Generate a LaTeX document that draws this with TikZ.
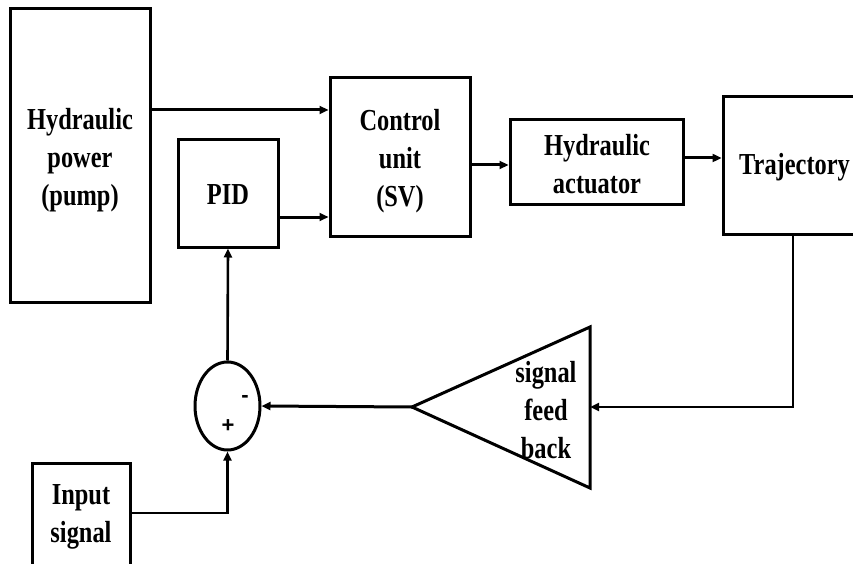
\documentclass[tikz,border=0pt]{standalone}
\usepackage{fontspec}
\setmainfont{Liberation Serif}
\newfontfamily\labfont{Liberation Serif}[FakeStretch=0.8]
\newfontfamily\sgnfont{Liberation Sans}
\usetikzlibrary{arrows.meta,shapes.geometric}
\begin{document}
\begin{tikzpicture}[x=1pt,y=-1pt,
  blk/.style={draw,line width=3pt,inner sep=0pt},
  arr/.style={line width=3pt,-{Triangle[length=9pt,width=8pt]}},
  lbl/.style={inner sep=0pt,font=\labfont\bfseries\fontsize{30.5}{38}\selectfont,align=center},
  sgn/.style={inner sep=0pt,font=\sgnfont\bfseries\fontsize{22}{22}\selectfont}]
\useasboundingbox (0,0) rectangle (853,564);
\fill[white] (0,0) rectangle (853,564);
\begin{scope}
\clip (0,0) rectangle (853,564);
\node[blk,minimum width=140pt,minimum height=293pt] (pump) at (80,155.5) {};
\node[lbl] (pumptxt) at (80,160) {Hydraulic\\power\\(pump)};
\node[blk,minimum width=140pt,minimum height=158pt] (ctrl) at (400,157) {};
\node[lbl] (ctrltxt) at (400,161) {Control\\unit\\(SV)};
\node[blk,minimum width=100pt,minimum height=107pt] (pid) at (228,193.5) {};
\node[lbl] (pidtxt) at (228,195) {PID};
\node[blk,minimum width=173pt,minimum height=84pt] (act) at (596.5,162) {};
\node[lbl] (acttxt) at (597,164) {Hydraulic\\actuator};
\node[blk,minimum width=146pt,minimum height=137pt] (traj) at (796,165.5) {};
\node[lbl,anchor=west] (trajtxt) at (739,167) {Trajectory};
\node[blk,minimum width=98pt,minimum height=140pt,anchor=north] (inp) at (81,462) {};
\node[lbl] (inptxt) at (81,517) {Input\\signal};
\node[draw,ellipse,line width=3pt,minimum width=65pt,minimum height=88pt,inner sep=0pt] (sum) at (227.5,406) {};
\node[sgn] (minus) at (245,399) {-};
\node[sgn] (plus) at (228,426) {+};
\coordinate (tip) at (412,407);
\coordinate (trir) at (590,407);
\draw[line width=3pt,line join=miter] (tip) -- (590,327) -- (590,488) -- cycle;
\node[lbl] (fbtxt) at (546,410) {signal\\feed\\back};
\coordinate (fbcorner) at (793,407);
\draw[arr] (pump.east |- 0,110) -- (ctrl.west |- 0,110);
\draw[arr] (pid.east |- 0,217) -- (ctrl.west |- 0,217);
\draw[arr] (ctrl.east |- 0,165) -- (act.west |- 0,165);
\draw[arr] (act.east |- 0,158) -- (traj.west |- 0,158);
\draw[arr,line width=2.6pt] (traj.south -| fbcorner) -- (fbcorner) -- (trir);
\draw[arr] (tip) -- (sum.east);
\draw[arr,line width=2.6pt] (sum.north) -- (pid.south);
\draw[arr,line width=2.6pt] (inp.east |- 0,513) -| (sum.south);
\end{scope}
\end{tikzpicture}
\end{document}
